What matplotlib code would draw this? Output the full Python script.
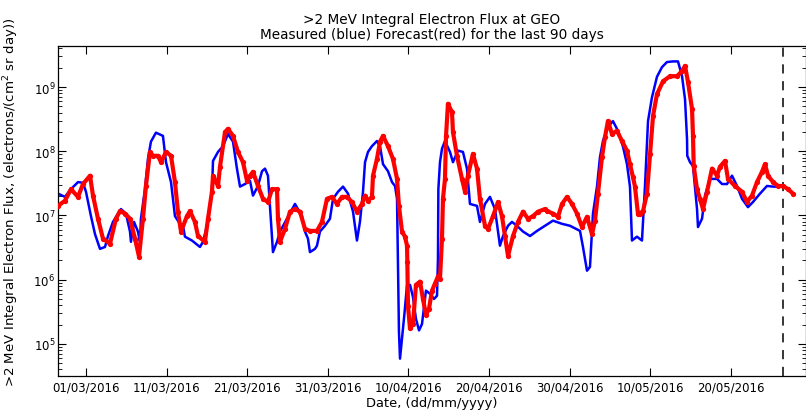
import numpy as np
import matplotlib
matplotlib.use("Agg")
import matplotlib.pyplot as plt
from matplotlib.ticker import LogLocator, NullFormatter

# days since 01/03/2016, log10 of flux (electrons/(cm^2 sr day))
measured_day = [-3.47, -2.61, -1.86, -0.99, -0.37, 0.0, 0.62, 1.12, 1.74, 2.36, 2.73, 3.35, 4.34, 4.96, 5.46, 5.58,
                5.96, 6.45, 6.70, 6.82, 7.32, 7.69, 8.06, 8.68, 9.55, 9.93, 10.55, 11.04, 11.66, 12.03, 12.28, 13.15,
                14.14, 14.52, 15.01, 15.63, 15.76, 16.38, 17.00, 17.62, 18.24, 18.73, 19.11, 19.73, 20.35, 20.72,
                21.34, 21.84, 22.21, 22.58, 22.83, 23.20, 23.70, 24.07, 24.94, 25.93, 26.80, 27.17, 27.54, 27.79,
                28.41, 28.66, 29.03, 29.65, 30.27, 30.65, 31.27, 31.89, 32.51, 33.13, 33.62, 33.99, 34.37, 34.62,
                34.99, 35.48, 36.10, 36.48, 36.85, 37.47, 37.97, 38.34, 38.59, 38.71, 38.83, 38.96, 39.45, 39.83,
                40.20, 40.57, 40.94, 41.32, 41.69, 42.18, 42.68, 43.18, 43.55, 43.67, 43.70, 43.72, 43.92, 44.17,
                44.54, 45.16, 45.53, 46.15, 46.77, 47.27, 47.64, 48.51, 48.88, 49.50, 50.12, 50.74, 51.36, 51.74,
                52.36, 52.85, 53.47, 54.22, 55.09, 55.96, 56.95, 57.94, 59.06, 60.05, 61.29, 61.66, 62.16, 62.53,
                62.90, 63.40, 63.77, 64.14, 64.76, 65.38, 66.00, 66.63, 67.12, 67.49, 67.74, 68.36, 68.98, 69.35,
                69.73, 70.22, 70.84, 71.46, 71.84, 72.08, 72.83, 73.45, 73.95, 74.32, 74.57, 74.60, 74.94, 75.31,
                75.81, 75.93, 76.43, 76.80, 77.42, 78.29, 78.91, 79.53, 80.15, 80.77, 81.39, 82.13, 82.75, 83.62,
                84.49, 85.24, 86.10, 86.48]
measured_log = [7.34, 7.29, 7.41, 7.52, 7.51, 7.37, 6.99, 6.71, 6.48, 6.51, 6.68, 6.90, 7.10, 7.03, 6.75, 6.59,
                6.90, 6.75, 6.59, 6.95, 7.41, 7.88, 8.15, 8.29, 8.24, 7.83, 7.52, 6.99, 6.87, 6.84, 6.67, 6.61,
                6.51, 6.59, 6.84, 7.37, 7.85, 7.99, 8.08, 8.27, 8.15, 7.73, 7.45, 7.49, 7.54, 7.31,
                7.46, 7.69, 7.73, 7.62, 7.15, 6.43, 6.59, 6.75, 6.95, 7.18, 6.99, 6.75, 6.64, 6.43,
                6.48, 6.53, 6.75, 6.84, 6.95, 7.26, 7.37, 7.45, 7.34, 7.06, 6.61, 6.90, 7.37, 7.83,
                7.99, 8.08, 8.16, 8.08, 7.80, 7.69, 7.52, 7.46, 7.26, 6.22, 5.19, 4.77, 5.39, 5.91,
                5.92, 5.73, 5.39, 5.21, 5.31, 5.83, 5.78, 5.70, 5.75, 6.33, 6.90, 7.41, 7.83, 8.04,
                8.16, 7.99, 7.83, 8.01, 7.99, 7.73, 7.18, 7.15, 6.90, 7.18, 7.29, 7.10, 6.53, 6.68,
                6.84, 6.90, 6.84, 6.75, 6.68, 6.76, 6.84, 6.92, 6.87, 6.84, 6.76, 6.51, 6.14, 6.20,
                7.03, 7.45, 7.91, 8.16, 8.38, 8.47, 8.32, 8.07, 7.80, 7.45, 6.61, 6.67, 6.61, 7.45,
                8.47, 8.84, 9.16, 9.31, 9.36, 9.39, 9.40, 9.40, 9.17, 8.81, 8.19, 7.93, 7.83, 7.77,
                7.10, 6.82, 6.95, 7.31, 7.57, 7.57, 7.49, 7.49, 7.62, 7.46, 7.26, 7.13, 7.21, 7.34,
                7.46, 7.45, 7.45, 7.45]

forecast_day = [-3.47, -2.61, -1.86, -0.99, -0.37, 0.50, 0.87, 1.49, 2.11, 2.98, 3.72, 4.22, 4.84, 5.46, 6.08, 6.58,
                7.07, 7.44, 7.94, 8.31, 8.93, 9.31, 9.93, 10.55, 11.04, 11.41, 11.79, 12.53, 12.90, 13.52, 13.90,
                14.76, 15.14, 15.63, 15.76, 16.38, 16.63, 17.25, 17.62, 18.24, 18.86, 19.48, 19.98, 20.35, 20.72,
                21.34, 21.96, 22.58, 23.08, 23.70, 23.82, 24.07, 24.69, 25.31, 25.93, 26.55, 27.17, 27.79, 28.66,
                29.28, 29.90, 30.52, 31.14, 31.76, 32.38, 33.00, 33.62, 34.24, 34.62, 34.99, 35.48, 35.61, 36.10,
                36.48, 36.85, 37.47, 38.09, 38.59, 38.83, 39.21, 39.58, 39.83, 39.87, 39.95, 40.20, 40.57, 40.94,
                41.44, 41.81, 42.18, 42.56, 42.93, 43.30, 43.67, 43.92, 44.17, 44.29, 44.54, 44.67, 44.91, 45.41,
                45.53, 46.03, 46.65, 47.02, 47.39, 48.01, 48.51, 48.88, 49.50, 49.88, 50.50, 51.12, 51.61, 51.99,
                52.36, 52.98, 53.60, 54.22, 54.84, 55.46, 56.08, 56.95, 57.20, 57.94, 58.56, 59.06, 59.68, 60.30,
                60.92, 61.54, 62.16, 62.78, 63.15, 63.52, 64.02, 64.39, 64.76, 65.26, 65.88, 66.50, 67.12, 67.49,
                67.86, 68.11, 68.49, 68.73, 69.11, 69.60, 69.98, 70.35, 70.84, 71.59, 72.46, 73.33, 73.95, 74.32,
                74.69, 75.19, 75.31, 75.40, 75.81, 76.18, 76.55, 77.05, 77.67, 78.29, 78.66, 79.28, 79.65, 80.52,
                81.39, 82.01, 82.63, 83.25, 83.87, 84.24, 84.62, 85.24, 85.86, 86.48, 87.10, 87.72]
forecast_log = [7.15, 7.23, 7.41, 7.29, 7.49, 7.62, 7.31, 6.95, 6.64, 6.56, 6.95, 7.07, 7.03, 6.95, 6.64, 6.36,
                6.95, 7.46, 7.99, 7.93, 7.93, 7.83, 7.99, 7.93, 7.52, 7.06, 6.75, 6.99, 7.07, 6.90, 6.68,
                6.59, 6.95, 7.37, 7.62, 7.46, 7.76, 8.30, 8.35, 8.24, 7.99, 7.83, 7.54, 7.62, 7.68,
                7.46, 7.26, 7.21, 7.41, 7.41, 6.95, 6.59, 6.79, 7.06, 7.10, 7.06, 6.79, 6.76, 6.76,
                6.90, 7.26, 7.29, 7.18, 7.29, 7.29, 7.21, 7.06, 7.18, 7.31, 7.23, 7.29, 7.62, 7.88,
                8.15, 8.24, 8.08, 7.88, 7.57, 7.15, 6.75, 6.67, 6.53, 6.28, 5.59, 5.24, 5.31, 5.92,
                5.97, 5.70, 5.45, 5.55, 5.83, 5.94, 6.05, 6.01, 6.64, 7.26, 7.57, 8.24, 8.74, 8.61,
                8.30, 7.93, 7.57, 7.37, 7.62, 7.96, 7.73, 7.26, 6.84, 6.79, 6.99, 7.21, 6.99, 6.68,
                6.37, 6.68, 6.90, 7.06, 6.95, 6.99, 7.06, 7.10, 7.07, 7.03, 6.98, 7.18, 7.29, 7.18,
                7.03, 6.82, 6.98, 6.71, 6.92, 7.34, 7.91, 8.22, 8.47, 8.27, 8.32, 8.16, 8.01, 7.80,
                7.60, 7.45, 7.02, 7.03, 7.07, 7.34, 7.96, 8.55, 8.89, 9.09, 9.17, 9.17, 9.25, 9.33,
                9.08, 8.66, 8.24, 7.77, 7.41, 7.26, 7.10, 7.37, 7.73, 7.62, 7.76, 7.85, 7.57, 7.46,
                7.37, 7.21, 7.31, 7.52, 7.68, 7.80, 7.62, 7.52, 7.46, 7.46, 7.41, 7.34]

forecast_start_day = 86.48
tick_days = [0, 10, 20, 30, 40, 50, 60, 70, 80]
tick_labels = ['01/03/2016', '11/03/2016', '21/03/2016', '31/03/2016', '10/04/2016',
               '20/04/2016', '30/04/2016', '10/05/2016', '20/05/2016']

plt.rcParams['font.family'] = ['DejaVu Sans']
fig = plt.figure(figsize=(8.06, 4.14), dpi=100)
ax = fig.add_axes([58/806, 37/414, 1 - 58/806, (377-47)/414])

mf = 10 ** np.array(measured_log)
ff = 10 ** np.array(forecast_log)
ax.plot(measured_day, mf, color='#0000ff', lw=1.8, zorder=2)
ax.plot(forecast_day, ff, color='#ff0000', lw=3.0, marker='o', ms=3.8, mew=0, zorder=3)
ax.axvline(forecast_start_day, color='black', lw=1.1, ls=(0, (6, 5)), zorder=1)

ax.set_yscale('log')
ax.set_xlim(-3.47, 89.33)
ax.set_ylim(10**4.5, 10**9.64)
ax.yaxis.set_major_locator(LogLocator(base=10, numticks=20))
ax.yaxis.set_minor_locator(LogLocator(base=10, subs=np.arange(2, 10), numticks=20))
ax.yaxis.set_minor_formatter(NullFormatter())
ax.set_xticks(tick_days)
ax.set_xticklabels(tick_labels)
ax.tick_params(axis='both', which='major', direction='in', length=6, width=0.8,
               top=True, right=True, labelsize=8.5, pad=3)
ax.tick_params(axis='y', which='minor', direction='in', length=3, width=0.6, right=True)
ax.tick_params(axis='y', which='major', pad=2)
for s in ax.spines.values():
    s.set_linewidth(0.9)

ax.set_title('>2 MeV Integral Electron Flux at GEO\nMeasured (blue) Forecast(red) for the last 90 days',
             fontsize=9.8, pad=6, linespacing=1.05)
ax.set_xlabel('Date, (dd/mm/yyyy)', fontsize=9.4, labelpad=2)
ax.set_ylabel(r'>2 MeV Integral Electron Flux, (electrons/(cm$^2$ sr day))', fontsize=9.6)
ax.yaxis.set_label_coords(-0.05, 0.53)

fig.savefig('out.png', dpi=100)
